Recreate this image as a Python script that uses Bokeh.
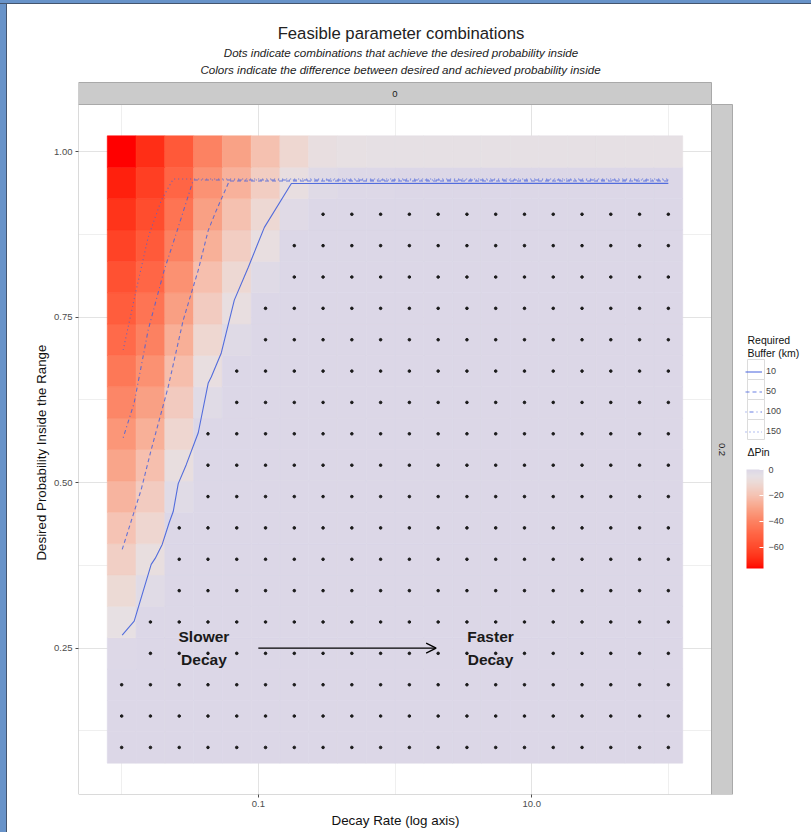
import numpy as np
from bokeh.plotting import figure
from bokeh.layouts import column, row
from bokeh.models import (ColumnDataSource, LinearColorMapper, ColorBar, FixedTicker,
                          Legend, LegendItem, Title, Arrow, OpenHead, Div, AllLabels)
from bokeh.embed import file_html
from bokeh.resources import INLINE
from bokeh.core.properties import value

# ---- grid of parameter combinations -------------------------------------
decay_rates = [0.01, 0.01624, 0.02637, 0.04281, 0.06952, 0.1129, 0.1833, 0.2976,
               0.4833, 0.7848, 1.274, 2.069, 3.360, 5.456, 8.859, 14.38, 23.36,
               37.93, 61.58, 100.0]
desired_p = [0.1, 0.1474, 0.1947, 0.2421, 0.2895, 0.3368, 0.3842, 0.4316, 0.4789,
             0.5263, 0.5737, 0.6211, 0.6684, 0.7158, 0.7632, 0.8105, 0.8579,
             0.9053, 0.9526, 1.0]
# achieved probability inside for each decay rate
achieved_p = [0.235, 0.315, 0.455, 0.600, 0.700, 0.795, 0.885, 0.935, 0.945, 0.949,
              0.950, 0.951, 0.951, 0.951, 0.952, 0.952, 0.952, 0.952, 0.952, 0.952]

# ---- required buffer curves ------------------------------------------------
buf10_x = [0.01009, 0.01235, 0.01645, 0.01759, 0.01980, 0.02228, 0.02384, 0.02594,
           0.02969, 0.03634, 0.04301, 0.04524, 0.05357, 0.06671, 0.08446, 0.1107,
           0.1745, 100.0]
buf10_y = [0.2696, 0.2907, 0.3765, 0.3855, 0.4066, 0.4398, 0.4563, 0.4985, 0.5271,
           0.5753, 0.6506, 0.6596, 0.6958, 0.7756, 0.8253, 0.8855, 0.9518, 0.952]
buf50_x = [0.01009, 0.01390, 0.01645, 0.02191, 0.02822, 0.03634, 0.04301, 0.04924,
           0.06132, 100.0]
buf50_y = [0.3991, 0.4895, 0.5497, 0.6446, 0.7455, 0.8208, 0.8810, 0.9111, 0.9555,
           0.9555]
buf100_x = [0.01026, 0.01235, 0.01563, 0.02048, 0.02594, 0.03341, 100.0]
buf100_y = [0.5678, 0.6205, 0.7304, 0.8208, 0.8855, 0.957, 0.957]
buf150_x = [0.01026, 0.01277, 0.01563, 0.01948, 0.02384, 100.0]
buf150_y = [0.7003, 0.7907, 0.8705, 0.9262, 0.9585, 0.9585]

buffer_labels = ["10", "50", "100", "150"]
dpin_ticks = [0, -20, -40, -60]
facet_col = "0"
facet_row = "0.2"
title_lines = ["Feasible parameter combinations",
               "Dots indicate combinations that achieve the desired probability inside",
               "Colors indicate the difference between desired and achieved probability inside"]

# colour stops of the ΔPin fill scale
ramp_values = [-76.5, -70, -60, -50, -40, -30, -20, -10, -5, 0]
ramp_colors = ["#ff0000", "#ff2812", "#ff4a2c", "#ff6444", "#fc8262", "#f9a286",
               "#f5c2b2", "#ecdad6", "#e6e0e4", "#dcd7e7"]

FONT = "Liberation Sans"


# ---- colour ramp interpolated in CIELAB --------------------------------------
def _hex_rgb(h):
    h = h.lstrip("#")
    return np.array([int(h[i:i + 2], 16) for i in (0, 2, 4)], dtype=float) / 255.0


M = np.array([[0.4124, 0.3576, 0.1805], [0.2126, 0.7152, 0.0722], [0.0193, 0.1192, 0.9505]])
WHITE = np.array([0.95047, 1.0, 1.08883])


def _to_lab(h):
    c = _hex_rgb(h)
    lin = np.where(c <= 0.04045, c / 12.92, ((c + 0.055) / 1.055) ** 2.4)
    xyz = M @ lin / WHITE
    d = 6 / 29
    f = np.where(xyz > d ** 3, np.cbrt(xyz), xyz / (3 * d * d) + 4 / 29)
    return np.array([116 * f[1] - 16, 500 * (f[0] - f[1]), 200 * (f[1] - f[2])])


def _from_lab(lab):
    L, a, b = lab
    fy = (L + 16) / 116
    f = np.array([fy + a / 500, fy, fy - b / 200])
    d = 6 / 29
    xyz = np.where(f > d, f ** 3, 3 * d * d * (f - 4 / 29)) * WHITE
    lin = np.clip(np.linalg.solve(M, xyz), 0, 1)
    c = np.where(lin <= 0.0031308, 12.92 * lin, 1.055 * lin ** (1 / 2.4) - 0.055)
    c = np.clip(np.round(c * 255), 0, 255).astype(int)
    return "#%02x%02x%02x" % tuple(c)


stop_labs = np.array([_to_lab(c) for c in ramp_colors])
palette = []
for v in np.linspace(ramp_values[0], ramp_values[-1], 256):
    lab = [np.interp(v, ramp_values, stop_labs[:, k]) for k in range(3)]
    palette.append(_from_lab(np.array(lab)))

# ---- tiles -----------------------------------------------------------------
xr = np.array(decay_rates)
yr = np.array(desired_p)
x_mid = np.sqrt(xr[:-1] * xr[1:])
x_edges = np.concatenate([[xr[0] ** 2 / x_mid[0]], x_mid, [xr[-1] ** 2 / x_mid[-1]]])
y_mid = (yr[:-1] + yr[1:]) / 2
y_edges = np.concatenate([[2 * yr[0] - y_mid[0]], y_mid, [2 * yr[-1] - y_mid[-1]]])

left, right, bottom, top, dpin, px, py = [], [], [], [], [], [], []
for j, d in enumerate(desired_p):
    for i, r in enumerate(decay_rates):
        diff = achieved_p[i] - d
        left.append(x_edges[i]); right.append(x_edges[i + 1])
        bottom.append(y_edges[j]); top.append(y_edges[j + 1])
        dpin.append(min(0.0, diff) * 100)
        if diff >= 0:
            px.append(r); py.append(d)

tiles = ColumnDataSource(dict(left=left, right=right, bottom=bottom, top=top, dpin=dpin))
mapper = LinearColorMapper(palette=palette, low=ramp_values[0], high=ramp_values[-1])

# ---- panel geometry (page pixels) ------------------------------------------
PL, PR, PT, PB = 78, 711, 104, 794          # data panel
L0 = np.log10(x_edges[0]) - 0.05 * np.log10(x_edges[-1] / x_edges[0])
L1 = np.log10(x_edges[-1]) + 0.05 * np.log10(x_edges[-1] / x_edges[0])
Y0 = y_edges[0] - 0.05 * (y_edges[-1] - y_edges[0])
Y1 = y_edges[-1] + 0.05 * (y_edges[-1] - y_edges[0])


def xpx(x_page):
    return 10 ** (L0 + (x_page - PL) / (PR - PL) * (L1 - L0))


def ypx(y_page):
    return Y0 + (PB - y_page) / (PB - PT) * (Y1 - Y0)


OX, OY = 7, 4                                # figure offset inside page frame
p = figure(width=811 - OX, height=832 - OY, x_axis_type="log",
           x_range=(xpx(PL), xpx(811)), y_range=(ypx(PB), ypx(OY)),
           output_backend="svg", toolbar_location=None,
           min_border_left=PL - OX, min_border_right=0, min_border_top=0,
           min_border_bottom=832 - PB, margin=0)
p.background_fill_color = "white"
p.border_fill_color = "white"
p.outline_line_color = None

p.xgrid.ticker = FixedTicker(ticks=[0.1, 10], minor_ticks=[0.01, 1, 100])
p.ygrid.ticker = FixedTicker(ticks=[0.25, 0.5, 0.75, 1.0],
                             minor_ticks=[0.125, 0.375, 0.625, 0.875])
for g in (p.xgrid, p.ygrid):
    g.grid_line_color = "#e3e3e3"
    g.minor_grid_line_color = "#efefef"

p.quad(left="left", right="right", bottom="bottom", top="top", source=tiles,
       fill_color={"field": "dpin", "transform": mapper},
       line_color={"field": "dpin", "transform": mapper}, line_width=0.6)
p.scatter(px, py, size=2.6, color="#1a1a1a")

line_color = "#4360dc"
r10 = p.line(buf10_x, buf10_y, line_color=line_color, line_width=1.1, line_alpha=0.9)
r50 = p.line(buf50_x, buf50_y, line_color=line_color, line_width=1.1, line_alpha=0.8,
             line_dash="4 3")
r100 = p.line(buf100_x, buf100_y, line_color=line_color, line_width=1.1, line_alpha=0.8,
              line_dash="1 3 4 3")
r150 = p.line(buf150_x, buf150_y, line_color=line_color, line_width=1.1, line_alpha=0.8,
              line_dash="1 3")

# direction annotation
p.text(x=[0.04, 5.0], y=[0.25, 0.25], text=["Slower\nDecay", "Faster\nDecay"],
       text_font=value(FONT), text_font_style="bold", text_font_size="15.5px",
       text_color="#1a1a1a", text_align="center", text_baseline="middle",
       text_line_height=1.35)
p.add_layout(Arrow(end=OpenHead(size=10, line_width=1.3, line_color="black"),
                   x_start=0.1, y_start=0.25, x_end=2.0, y_end=0.25,
                   line_width=1.3, line_color="black"))

# panel border, facet strips, title band and legend area
p.quad(left=[xpx(PL)], right=[xpx(PR)], bottom=[ypx(PB)], top=[ypx(PT)],
       fill_color=None, line_color="#b5b5b5", line_width=1)
p.quad(left=[xpx(732), xpx(PR), xpx(PL - 10)], right=[xpx(820), xpx(732), xpx(820)],
       bottom=[ypx(840), ypx(PT), ypx(82)], top=[ypx(0), ypx(70), ypx(0)],
       fill_color="white", line_color=None)
p.quad(left=[xpx(PL), xpx(PR)], right=[xpx(PR), xpx(732)],
       bottom=[ypx(PT), ypx(PB)], top=[ypx(82), ypx(PT)],
       fill_color="#cbcbcb", line_color="#a9a9a9", line_width=1)
p.text(x=[np.sqrt(xpx(PL) * xpx(PR))], y=[ypx(93)], text=[facet_col],
       text_font=value(FONT), text_font_size="9.5px", text_color="#1a1a1a",
       text_align="center", text_baseline="middle")
p.text(x=[xpx(721.5)], y=[(Y0 + Y1) / 2], text=[facet_row], angle=-np.pi / 2,
       text_font=value(FONT), text_font_size="9.5px", text_color="#1a1a1a",
       text_align="center", text_baseline="middle")
p.text(x=[xpx(747)] * 3, y=[ypx(339), ypx(352), ypx(451)],
       text=["Required", "Buffer (km)", "ΔPin"],
       text_font=value(FONT), text_font_size="10.5px", text_color="#111111",
       text_align="left", text_baseline="middle")

# legend key boxes
key_centres = [369 + 20 * k for k in range(len(buffer_labels))]
p.quad(left=[xpx(747)] * 4, right=[xpx(764)] * 4,
       bottom=[ypx(c + 10) for c in key_centres], top=[ypx(c - 10) for c in key_centres],
       fill_color="white", line_color="#dcdcdc", line_width=1)

# titles
p.text(x=[xpx(400.5)], y=[ypx(33)], text=title_lines[:1], text_font=value(FONT),
       text_font_size="16.7px", text_color="#222222", text_align="center",
       text_baseline="middle")
p.text(x=[xpx(400.5), xpx(400)], y=[ypx(52), ypx(69)], text=title_lines[1:],
       text_font=value(FONT), text_font_size="11.6px", text_font_style="italic",
       text_color="#222222", text_align="center", text_baseline="middle")

# ---- axes ------------------------------------------------------------------
p.xaxis.ticker = FixedTicker(ticks=[0.1, 10])
p.xaxis.major_label_overrides = {0.1: "0.1", 10: "10.0"}
p.yaxis.ticker = FixedTicker(ticks=[0.25, 0.5, 0.75, 1.0])
p.yaxis.major_label_overrides = {0.25: "0.25", 0.5: "0.50", 0.75: "0.75", 1.0: "1.00"}
for ax in (p.xaxis, p.yaxis):
    ax.axis_line_color = None
    ax.major_tick_line_color = "#4d4d4d"
    ax.major_tick_out = 3
    ax.major_tick_in = 0
    ax.minor_tick_line_color = None
    ax.major_label_text_font = FONT
    ax.major_label_text_font_size = "9.5px"
    ax.major_label_text_color = "#4d4d4d"
    ax.major_label_standoff = 3


def side_title(text, size, start, standoff, place):
    p.add_layout(Title(text=text, align="left", offset=start, standoff=standoff,
                       text_font=FONT, text_font_size=size, text_font_style="normal",
                       text_color="#111111"), place)


side_title("Decay Rate (log axis)", "13.4px", 331 - PL, 3, "below")
side_title("Desired Probability Inside the Range", "13.3px", PB - 560, 5, "left")

# ---- legends -----------------------------------------------------------------
legend = Legend(items=[LegendItem(label=lab, renderers=[r])
                       for lab, r in zip(buffer_labels, [r10, r50, r100, r150])],
                location=(747 - 2 - PL, PB - 439.5),
                glyph_width=17, glyph_height=17, spacing=3, padding=2, margin=0,
                label_standoff=4, label_text_font=FONT, label_text_font_size="9px",
                border_line_color=None, background_fill_alpha=0)
p.add_layout(legend)

cbar = ColorBar(color_mapper=mapper, location=(746 - 2 - PL, PB - 570), width=17,
                height=99, padding=2, margin=0, ticker=FixedTicker(ticks=dpin_ticks),
                major_label_policy=AllLabels(),
                major_label_text_font=FONT, major_label_text_font_size="9px",
                major_tick_line_color="white", major_tick_in=4, major_tick_out=0,
                bar_line_color=None, border_line_color=None, background_fill_alpha=0)
p.add_layout(cbar)

# ---- page with its blue frame ------------------------------------------------------
frame_style = {"background-color": "#6893c9", "box-sizing": "border-box"}
top_bar = Div(width=811, height=OY, margin=0,
              styles=dict(frame_style, **{"border-bottom": "1px solid #44556e"}))
side_bar = Div(width=OX, height=832 - OY, margin=0,
               styles=dict(frame_style, **{"border-right": "1px solid #44556e"}))
page = column(top_bar, row(side_bar, p, spacing=0, margin=0), spacing=0, margin=0)

open("out.html", "w").write(file_html(page, INLINE))
